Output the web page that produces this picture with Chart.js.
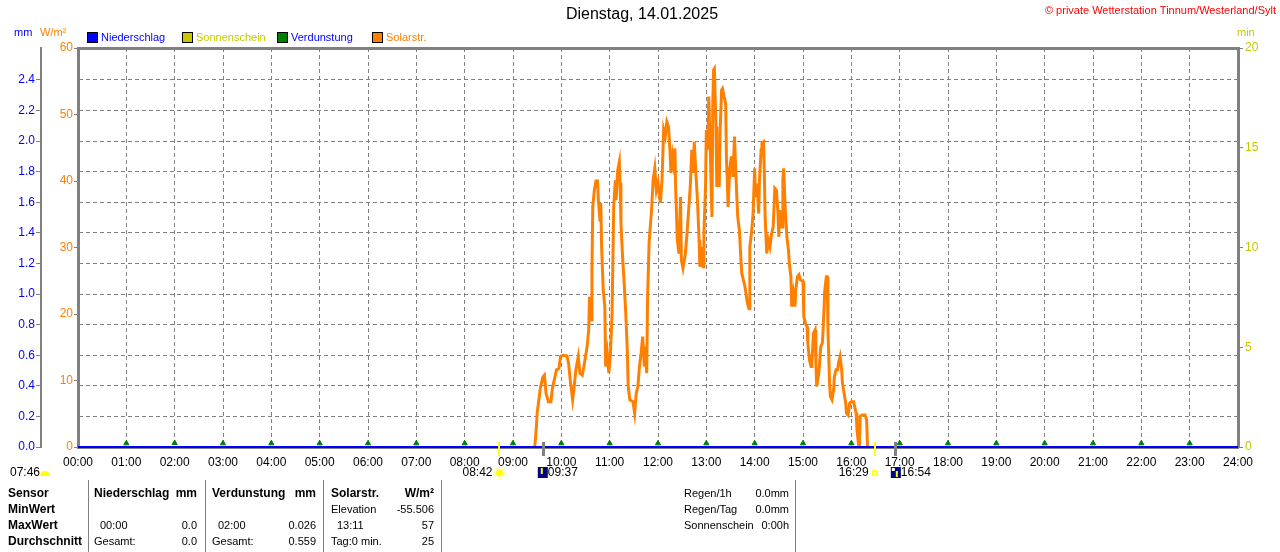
<!DOCTYPE html>
<html>
<head>
<meta charset="utf-8">
<script src="https://cdn.jsdelivr.net/npm/chart.js@4/dist/chart.umd.min.js"></script>
<style>
  html, body { margin: 0; padding: 0; background: #fff; }
  canvas { display: block; }
</style>
</head>
<body>
<canvas id="wetter" width="1280" height="552"></canvas>
<script>
// Achsen
const hourLabels = ['00:00','01:00','02:00','03:00','04:00','05:00','06:00','07:00','08:00','09:00','10:00','11:00',
  '12:00','13:00','14:00','15:00','16:00','17:00','18:00','19:00','20:00','21:00','22:00','23:00','24:00'];
const mmTicks = [0, 0.2, 0.4, 0.6, 0.8, 1.0, 1.2, 1.4, 1.6, 1.8, 2.0, 2.2, 2.4];
const wmTicks = [0, 10, 20, 30, 40, 50, 60];
const minTicks = [0, 5, 10, 15, 20];

// Niederschlag (mm), stuendlich 00:00 - 24:00
const rainValues = [0,0,0,0,0,0,0,0,0,0,0,0,0,0,0,0,0,0,0,0,0,0,0,0,0];

// Verdunstung (mm), stuendlich 01:00 - 23:00
const evapHours = [1,2,3,4,5,6,7,8,9,10,11,12,13,14,15,16,17,18,19,20,21,22,23];
const evapValues = [0.024,0.026,0.024,0.024,0.024,0.024,0.024,0.024,0.024,0.024,0.024,0.024,
  0.024,0.024,0.024,0.024,0.024,0.024,0.024,0.024,0.024,0.024,0.024];

// Solarstrahlung (W/m²), Minute des Tages
const solarMinutes = [567,569,570,572,574,577,579,581,584,587,589,592,594,597,599,602,607,609,611,614,616,618,621,623,626,628,630,632,634,635,
  637,638,639,641,643,645,646,648,649,650,652,654,655,657,659,661,663,665,667,668,670,672,673,674,676,678,680,682,683,685,
  689,691,693,695,697,699,701,703,704,706,707,709,712,714,716,718,720,723,725,727,729,731,733,735,736,738,739,741,742,744,
  746,748,749,751,754,756,758,760,762,764,765,767,769,771,772,774,776,777,779,780,782,783,785,786,787,788,789,790,792,793,
  795,796,797,799,800,802,804,805,806,807,809,811,813,815,816,818,819,821,823,824,826,828,831,833,834,836,838,840,841,843,
  845,846,848,849,851,852,853,855,857,859,861,863,865,867,869,870,871,874,875,876,878,880,882,883,885,886,888,890,891,893,
  895,897,900,901,903,905,906,908,910,911,913,915,916,917,919,920,922,924,925,927,929,930,931,933,934,936,938,939,941,943,
  944,946,948,949,951,953,954,956,958,960,963,964,966,967,969,970,971,973,975,977,979,980,981];
const solarValues = [0,3,5.1,7,8.9,10.5,10.8,8.1,6.8,6.8,8.9,10.5,11.6,11.8,13.6,13.8,13.7,12.6,10.1,7.1,9.1,11.6,13.6,11.1,10.8,12.1,13.6,15.1,17.6,22.6,
  19.1,26.6,36.1,38.6,40,40,37.1,34.1,36.7,30.1,23.6,21.1,12.1,14.1,11.1,14.1,20.1,36.1,40.1,37.1,41.6,42.9,39.7,33.7,28.6,24.6,20.1,14.1,9.1,7.1,
  6.8,5.1,8.1,9.1,12.1,14.1,16.6,12.1,15.1,11.1,22.1,30.9,35.6,40.2,41.9,38.6,39.7,36.7,40.2,47.7,46.7,48.9,48.2,44.2,41.2,43.7,42.7,44.9,38.6,31.1,
  29.1,37.6,28.1,26.9,29.1,32.1,35.6,39.1,44.7,41.2,45.9,41.2,37.1,31.1,27.1,30.1,27.1,32.1,39.1,47.7,44.7,52.7,44.2,39.1,34.6,51.7,56.7,56.9,48.2,39.1,
  42.1,39.1,47.2,53.7,53.9,52.7,51.7,43.2,40.2,36.1,41.7,43.7,40.6,46.7,43.2,37.1,34.6,32.6,28.1,26.1,25.1,24.1,21.6,20.8,30.1,32.1,35.1,41.9,37.6,39.6,
  35.1,40.2,44.7,45.7,45.9,41.2,34.6,29.1,31.1,30.1,32.1,33.1,38.9,38.6,35.1,31.6,35.6,33.1,40.2,41.9,35.6,31.6,29.6,27.6,25.6,21.1,23.1,21.1,23.6,25.6,
  25.9,25.1,24.9,19.6,18.6,18.1,15.6,13.1,12.1,12.6,17.1,17.6,12.6,9.1,10.6,11.6,15.1,15.6,17.6,23.6,25.6,25.6,17.6,9.6,7.6,7.1,8.6,10.6,11.6,11.6,
  12.6,13.6,11.6,9.6,8.1,6.6,5.1,4.8,6.6,6.8,6.8,6.1,5.1,2.6,0.3,0,4.6,4.8,4.8,4.8,4.1,0.3,0];

// Sonnenschein (min) - heute keiner
const sunValues = [];

// Daemmerung / Sonnenauf- und -untergang
const yellowMarks = ['08:42', '16:29'];
const grayMarks = ['09:37', '16:54'];

const titel = 'Dienstag, 14.01.2025';
const copyright = '© private Wetterstation Tinnum/Westerland/Sylt';

const tableHead = ['Sensor', 'Niederschlag', 'mm', 'Verdunstung', 'mm', 'Solarstr.', 'W/m²'];
const rowNames = ['MinWert', 'MaxWert', 'Durchschnitt'];
const rainCells = [['', ''], ['00:00', '0.0'], ['Gesamt:', '0.0']];
const evapCells = [['', ''], ['02:00', '0.026'], ['Gesamt:', '0.559']];
const solarCells = [['Elevation', '-55.506'], ['13:11', '57'], ['Tag:0 min.', '25']];
const sideNames = ['Regen/1h', 'Regen/Tag', 'Sonnenschein'];
const sideValues = ['0.0mm', '0.0mm', '0:00h'];

const BLUE = '#0000ff', ORANGE = '#ff8000', YELLOW = '#c8c800', GREEN = '#008000', GRAY = '#808080';
const FONT = '"Liberation Sans", Arial, sans-serif';

function toMin(t) {
  const p = t.split(':');
  return Number(p[0]) * 60 + Number(p[1]);
}

const deko = {
  id: 'deko',
  afterDraw(chart) {
    const ctx = chart.ctx;
    const xs = chart.scales.x;
    ctx.save();
    ctx.textBaseline = 'middle';

    ctx.fillStyle = '#000';
    ctx.font = '16px ' + FONT;
    ctx.textAlign = 'center';
    ctx.fillText(titel, 642, 15);

    ctx.fillStyle = '#ff0000';
    ctx.font = '11px ' + FONT;
    ctx.textAlign = 'right';
    ctx.fillText(copyright, 1276, 11);

    ctx.textAlign = 'left';
    ctx.fillStyle = BLUE; ctx.fillText('mm', 14, 33);
    ctx.fillStyle = ORANGE; ctx.fillText('W/m²', 40, 33);
    ctx.fillStyle = YELLOW; ctx.fillText('min', 1237, 33);

    // Legende
    const textColors = [BLUE, YELLOW, BLUE, ORANGE];
    chart.data.datasets.forEach(function (ds, i) {
      const x0 = 87 + i * 95;
      ctx.fillStyle = ds.legendColor;
      ctx.fillRect(x0, 32, 11, 11);
      ctx.strokeStyle = '#000';
      ctx.lineWidth = 1;
      ctx.strokeRect(x0 + 0.5, 32.5, 10, 10);
      ctx.fillStyle = textColors[i];
      ctx.fillText(ds.label, x0 + 14, 38);
    });

    // Markierungen unter der Zeitachse
    yellowMarks.forEach(function (t) {
      const px = xs.getPixelForValue(toMin(t));
      ctx.fillStyle = '#ffff00';
      ctx.fillRect(Math.round(px) - 1, 442, 2, 14);
    });
    grayMarks.forEach(function (t) {
      const px = xs.getPixelForValue(toMin(t));
      ctx.fillStyle = GRAY;
      ctx.fillRect(Math.round(px) - 1, 442, 3, 14);
    });

    ctx.font = '12px ' + FONT;
    ctx.fillStyle = '#000';
    ctx.textAlign = 'left';
    ctx.fillText('07:46', 10, 473);
    ctx.fillStyle = '#ffff00';
    ctx.beginPath(); ctx.arc(45, 476, 5, Math.PI, 0); ctx.fill();

    let px = xs.getPixelForValue(toMin('08:42'));
    ctx.fillStyle = '#000';
    ctx.textAlign = 'right';
    ctx.fillText('08:42', px - 6, 473);
    ctx.fillStyle = '#ffff00';
    ctx.beginPath(); ctx.arc(px + 1, 473, 3.5, 0, Math.PI * 2); ctx.fill();
    ctx.strokeStyle = '#ffff99'; ctx.lineWidth = 1;
    ctx.beginPath(); ctx.arc(px + 1, 473, 5.5, 0, Math.PI * 2); ctx.stroke();

    px = xs.getPixelForValue(toMin('09:37'));
    ctx.fillStyle = '#000080';
    ctx.fillRect(px - 5, 467, 10, 11);
    ctx.fillStyle = '#ffff00';
    ctx.fillRect(px - 2, 468, 2, 6);
    ctx.fillStyle = '#000';
    ctx.textAlign = 'left';
    ctx.fillText('09:37', px + 5, 473);

    px = xs.getPixelForValue(toMin('16:29'));
    ctx.textAlign = 'right';
    ctx.fillText('16:29', px - 6, 473);
    ctx.strokeStyle = '#ffff00'; ctx.lineWidth = 1.5;
    ctx.strokeRect(px - 2, 471, 4, 4);

    px = xs.getPixelForValue(toMin('16:54'));
    ctx.fillStyle = '#000080';
    ctx.fillRect(px - 4, 467, 10, 11);
    ctx.fillStyle = '#ffffff';
    ctx.fillRect(px - 3, 468, 3, 3);
    ctx.fillStyle = '#ffff00';
    ctx.fillRect(px + 1, 471, 2, 6);
    ctx.fillStyle = '#000';
    ctx.textAlign = 'left';
    ctx.fillText('16:54', px + 6, 473);

    // Tabelle
    ctx.strokeStyle = GRAY;
    ctx.lineWidth = 1;
    [88, 205, 323, 441, 795].forEach(function (x) {
      ctx.beginPath(); ctx.moveTo(x + 0.5, 480); ctx.lineTo(x + 0.5, 552); ctx.stroke();
    });

    const rows = [510, 526, 542];
    ctx.fillStyle = '#000';
    ctx.font = 'bold 12px ' + FONT;
    ctx.textAlign = 'left';
    ctx.fillText(tableHead[0], 8, 494);
    ctx.fillText(tableHead[1], 94, 494);
    ctx.fillText(tableHead[3], 212, 494);
    ctx.fillText(tableHead[5], 331, 494);
    ctx.textAlign = 'right';
    ctx.fillText(tableHead[2], 197, 494);
    ctx.fillText(tableHead[4], 316, 494);
    ctx.fillText(tableHead[6], 434, 494);
    ctx.textAlign = 'left';
    rowNames.forEach(function (n, i) { ctx.fillText(n, 8, rows[i]); });

    ctx.font = '11px ' + FONT;
    rows.forEach(function (y, i) {
      ctx.textAlign = 'left';
      ctx.fillText(rainCells[i][0], i === 1 ? 100 : 94, y);
      ctx.fillText(evapCells[i][0], i === 1 ? 218 : 212, y);
      ctx.fillText(solarCells[i][0], i === 1 ? 337 : 331, y);
      ctx.textAlign = 'right';
      ctx.fillText(rainCells[i][1], 197, y);
      ctx.fillText(evapCells[i][1], 316, y);
      ctx.fillText(solarCells[i][1], 434, y);
    });

    [494, 510, 526].forEach(function (y, i) {
      ctx.textAlign = 'left';
      ctx.fillText(sideNames[i], 684, y);
      ctx.textAlign = 'right';
      ctx.fillText(sideValues[i], 789, y);
    });

    ctx.restore();
  }
};

new Chart(document.getElementById('wetter').getContext('2d'), {
  type: 'line',
  data: {
    datasets: [{
      label: 'Niederschlag',
      legendColor: BLUE,
      data: rainValues.map(function (v, i) { return { x: i * 60, y: v }; }),
      yAxisID: 'mm',
      borderColor: BLUE,
      borderWidth: 2,
      pointRadius: 0,
      clip: false
    }, {
      label: 'Sonnenschein',
      legendColor: YELLOW,
      data: sunValues,
      yAxisID: 'min',
      borderColor: YELLOW,
      pointRadius: 0
    }, {
      label: 'Verdunstung',
      legendColor: GREEN,
      data: evapHours.map(function (h, i) { return { x: h * 60, y: evapValues[i] }; }),
      yAxisID: 'mm',
      showLine: false,
      pointStyle: 'triangle',
      pointRadius: 3,
      pointBackgroundColor: GREEN,
      pointBorderColor: GREEN,
      pointBorderWidth: 1,
      borderColor: GREEN
    }, {
      label: 'Solarstr.',
      legendColor: ORANGE,
      data: solarMinutes.map(function (m, i) { return { x: m, y: solarValues[i] }; }),
      yAxisID: 'wm',
      borderColor: ORANGE,
      borderWidth: 3,
      pointRadius: 0,
      tension: 0
    }]
  },
  options: {
    responsive: false,
    animation: false,
    devicePixelRatio: 1,
    layout: { padding: { top: 48, left: 0, right: 0, bottom: 0 } },
    plugins: { legend: { display: false }, title: { display: false }, tooltip: { enabled: false } },
    scales: {
      x: {
        type: 'linear',
        position: 'bottom',
        min: 0,
        max: 1440,
        afterBuildTicks: function (s) { s.ticks = hourLabels.map(function (l, i) { return { value: i * 60 }; }); },
        afterFit: function (s) { s.height = 105; },
        ticks: {
          autoSkip: false,
          maxRotation: 0,
          padding: 8,
          color: '#000',
          font: { family: FONT, size: 12 },
          callback: function (v, i) { return hourLabels[i]; }
        },
        grid: { color: GRAY, lineWidth: 1, drawTicks: false },
        border: { color: GRAY, width: 3, dash: [4, 3] }
      },
      x2: {
        type: 'linear',
        position: 'top',
        min: 0,
        max: 1440,
        afterFit: function (s) { s.height = 0; },
        ticks: { display: false },
        grid: { display: false },
        border: { color: GRAY, width: 3 }
      },
      wm: {
        position: 'left',
        weight: 0,
        min: 0,
        max: 60,
        afterBuildTicks: function (s) { s.ticks = wmTicks.map(function (v) { return { value: v }; }); },
        afterFit: function (s) { s.width = 37; },
        ticks: { color: ORANGE, padding: 1, font: { family: FONT, size: 12 } },
        grid: { drawOnChartArea: false, tickLength: 4, tickColor: GRAY, color: GRAY },
        border: { color: GRAY, width: 3 }
      },
      mm: {
        position: 'left',
        weight: 1,
        min: 0,
        max: 2.609,
        afterBuildTicks: function (s) { s.ticks = mmTicks.map(function (v) { return { value: v }; }); },
        afterFit: function (s) { s.width = 41; },
        ticks: {
          color: BLUE,
          padding: 1,
          font: { family: FONT, size: 12 },
          callback: function (v) { return Number(v).toFixed(1); }
        },
        grid: { color: GRAY, lineWidth: 1, tickLength: 5, tickColor: GRAY },
        border: { color: GRAY, width: 2, dash: [4, 3] }
      },
      min: {
        position: 'right',
        min: 0,
        max: 20,
        afterBuildTicks: function (s) { s.ticks = minTicks.map(function (v) { return { value: v }; }); },
        afterFit: function (s) { s.width = 42; },
        ticks: { color: YELLOW, padding: 2, font: { family: FONT, size: 12 } },
        grid: { drawOnChartArea: false, tickLength: 5, tickColor: GRAY, color: GRAY },
        border: { color: GRAY, width: 3 }
      }
    }
  },
  plugins: [deko]
});
</script>
</body>
</html>
